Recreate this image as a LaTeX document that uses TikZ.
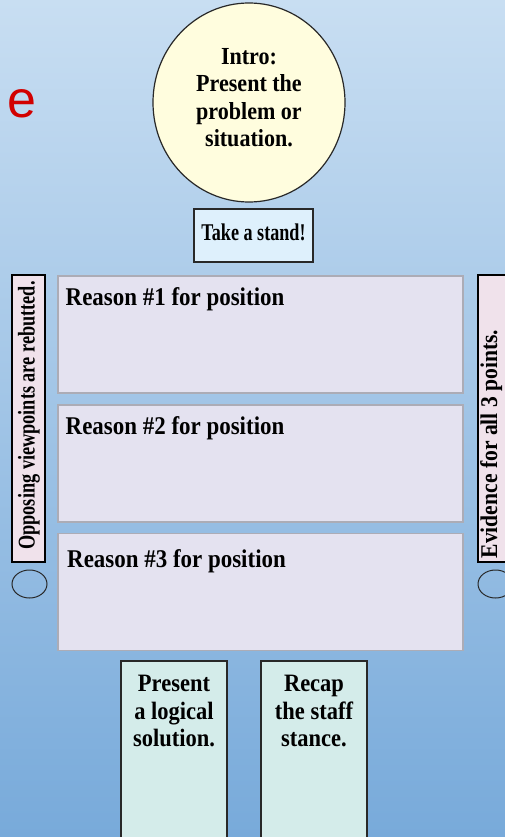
\documentclass[tikz,border=0pt]{standalone}
\usepackage{fontspec}
\usepackage{graphicx}
\usetikzlibrary{shapes.geometric}
\setmainfont{Liberation Serif}[FakeStretch=0.9]
\newfontfamily\esans{Liberation Sans}
\definecolor{bgtop}{RGB}{200,222,242}
\definecolor{bgbot}{RGB}{120,170,218}
\definecolor{circfill}{RGB}{255,253,222}
\definecolor{standfill}{RGB}{222,240,252}
\definecolor{sidefill}{RGB}{240,226,235}
\definecolor{reasonfill}{RGB}{228,226,240}
\definecolor{reasonline}{RGB}{172,172,182}
\definecolor{endfill}{RGB}{212,236,234}
\definecolor{darkline}{RGB}{40,40,40}
\definecolor{redletter}{RGB}{210,0,0}
\begin{document}
\begin{tikzpicture}[x=1pt,y=-1pt,
  shapebox/.style={draw=darkline, line width=1.2pt, inner sep=0pt, outer sep=0pt},
  reasonbox/.style={draw=reasonline, fill=reasonfill, line width=1.3pt, inner sep=0pt, minimum width=405pt, minimum height=117pt},
  sidebox/.style={shapebox, draw=black, fill=sidefill, minimum width=33pt, minimum height=287pt},
  endbox/.style={shapebox, fill=endfill, minimum width=106pt, minimum height=200pt},
  knob/.style={ellipse, draw=darkline, line width=1pt, minimum width=35pt, minimum height=28pt, inner sep=0pt},
  btext/.style={font=\bfseries\fontsize{24.5}{27.5}\selectfont, align=center, inner sep=0pt},
  rtext/.style={font=\bfseries\fontsize{25.5}{28}\selectfont, inner sep=0pt, anchor=base west}]
\useasboundingbox (0,0) rectangle (505,837);
\clip (0,0) rectangle (505,837);
\shade[top color=bgtop, bottom color=bgbot] (0,0) rectangle (505,837);

% red letter
\node[font=\esans\fontsize{52}{52}\selectfont, text=redletter, inner sep=0pt, anchor=base] (eletter) at (22,117.5) {e};

% intro circle
\node[ellipse, shapebox, fill=circfill, minimum width=192pt, minimum height=199pt] (intro) at (249,102.5) {};
\node[btext, anchor=north] (introtext) at (249,48) {Intro:\\Present the\\problem or\\situation.};

% take a stand
\node[shapebox, fill=standfill, minimum width=119pt, minimum height=53pt] (stand) at (253.5,235.5) {};
\node[font=\bfseries\fontsize{24}{27}\selectfont, inner sep=0pt, anchor=base] (standtext) at (253.5,240) {\scalebox{0.84}[1]{Take a stand!}};

% reasons
\node[reasonbox] (r1) at (260.5,334.5) {};
\node[reasonbox] (r2) at (260.5,463.5) {};
\node[reasonbox] (r3) at (260.5,592) {};
\node[rtext] (r1text) at (65.5,305) {Reason \#1 for position};
\node[rtext] (r2text) at (65.5,434) {Reason \#2 for position};
\node[rtext] (r3text) at (67,567) {Reason \#3 for position};

% side boxes
\node[sidebox] (left) at (28.5,418.5) {};
\node[font=\bfseries\fontsize{24}{27}\selectfont, inner sep=0pt, anchor=base, rotate=90] (lefttext) at (34.5,415.5) {\scalebox{0.846}[1]{Opposing viewpoints are rebutted.}};
\node[sidebox] (right) at (494.5,418.5) {};
\node[font=\bfseries\fontsize{24}{27}\selectfont, inner sep=0pt, anchor=base, rotate=90] (righttext) at (497,444) {Evidence for all 3 points.};

% knobs
\node[knob] (lknob) at (29.5,584) {};
\node[knob] (rknob) at (495.5,584) {};

% ending boxes
\node[endbox] (sol) at (174,761) {};
\node[endbox] (recap) at (314,761) {};
\node[btext, anchor=north, font=\bfseries\fontsize{25}{27.5}\selectfont] (soltext) at (174,675) {Present\\a logical\\solution.};
\node[btext, anchor=north, font=\bfseries\fontsize{25}{27.5}\selectfont] (recaptext) at (314,675) {Recap\\the staff\\stance.};
\end{tikzpicture}
\end{document}
